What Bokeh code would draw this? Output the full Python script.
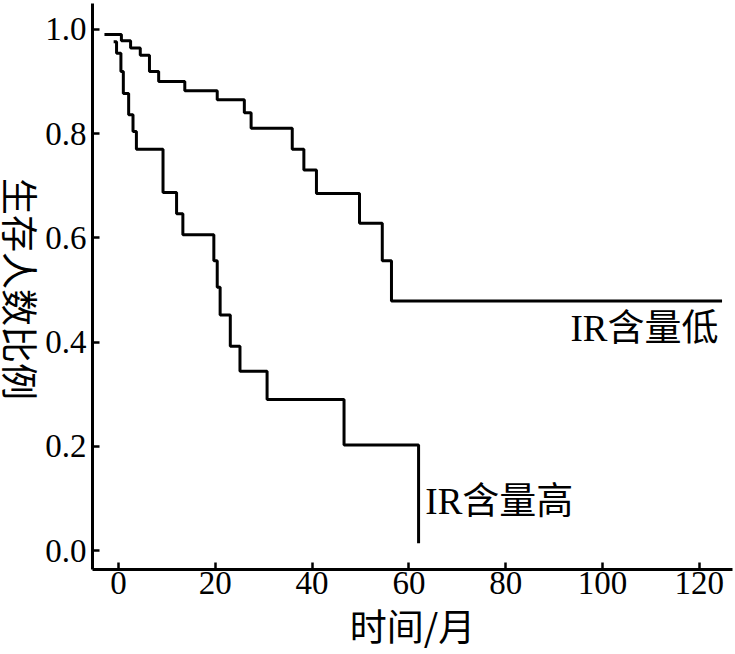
import math
from bokeh.plotting import figure
from bokeh.layouts import row
from bokeh.models import FixedTicker, PrintfTickFormatter, Range1d, Label
from bokeh.core.properties import value
from bokeh.embed import file_html
from bokeh.resources import INLINE

# IR low group (Kaplan-Meier step curve): time of drop, survival after drop
low_time = [-2.9, 0.6, 2.5, 4.5, 6.4, 8.3, 13.7, 20.4, 26.0, 27.4, 35.9, 38.3, 40.9, 49.8, 54.5, 56.4, 124.7]
low_surv = [0.990, 0.978, 0.964, 0.950, 0.919, 0.900, 0.882, 0.865, 0.840, 0.810, 0.770, 0.730, 0.685, 0.628, 0.556, 0.479, 0.479]

# IR high group
high_time = [-1.0, -0.4, 0.5, 1.0, 2.1, 3.0, 3.7, 9.2, 12.0, 13.3, 19.7, 20.4, 21.0, 23.1, 25.1, 30.7, 46.6, 62.0]
high_surv = [0.976, 0.954, 0.919, 0.877, 0.836, 0.804, 0.770, 0.687, 0.646, 0.606, 0.556, 0.505, 0.452, 0.392, 0.344, 0.290, 0.2025, 0.014]

x_ticks = [0, 20, 40, 60, 80, 100, 120]
y_ticks = [0.0, 0.2, 0.4, 0.6, 0.8, 1.0]

label_low = "IR含量低"
label_high = "IR含量高"
x_title = "时间/月"
y_title = "生存人数比例"

H = 654
TW = 40

# narrow panel holding the y-axis title (reads top to bottom)
tp = figure(width=TW, height=H, output_backend="svg", toolbar_location=None,
            x_range=Range1d(0, TW), y_range=Range1d(0, H),
            min_border_left=0, min_border_right=0, min_border_top=0, min_border_bottom=0)
tp.axis.visible = False
tp.grid.visible = False
tp.outline_line_color = None
tp.text(x=[20], y=[H - 330], text=[y_title], angle=-math.pi / 2,
        text_font=value("Noto Sans CJK SC"), text_font_size="37px",
        text_align="center", text_baseline="middle", text_color="black")

p = figure(width=735 - TW, height=H, output_backend="svg", toolbar_location=None,
           x_range=Range1d(-5.37, 126.86), y_range=Range1d(-0.0362, 1.0495),
           min_border_left=92 - TW, min_border_right=3, min_border_top=3, min_border_bottom=81)
p.outline_line_color = None
p.xgrid.grid_line_color = None
p.ygrid.grid_line_color = None
p.background_fill_color = "white"
p.border_fill_color = "white"

p.step(low_time, low_surv, mode="after", line_width=3, line_color="black")
p.step(high_time, high_surv, mode="after", line_width=3, line_color="black")

serif = "Liberation Serif, Noto Sans CJK SC"
p.add_layout(Label(x=93.4, y=0.427, text=label_low, text_font=serif, text_font_size="37px",
                   text_baseline="middle", text_align="left", text_color="black"))
p.add_layout(Label(x=63.4, y=0.095, text=label_high, text_font=serif, text_font_size="37px",
                   text_baseline="middle", text_align="left", text_color="black"))

for ax in (p.xaxis[0], p.yaxis[0]):
    ax.axis_line_width = 3
    ax.axis_line_color = "black"
    ax.major_tick_line_width = 2.5
    ax.major_tick_line_color = "black"
    ax.major_tick_in = 7
    ax.major_tick_out = 0
    ax.minor_tick_line_color = None
    ax.major_label_text_font = "Liberation Serif"
    ax.major_label_text_font_size = "33px"
    ax.major_label_text_color = "black"
    ax.axis_label_text_font = "Noto Sans CJK SC"
    ax.axis_label_text_font_size = "37px"
    ax.axis_label_text_font_style = "normal"
    ax.axis_label_text_color = "black"

p.xaxis[0].ticker = FixedTicker(ticks=x_ticks)
p.yaxis[0].ticker = FixedTicker(ticks=y_ticks)
p.yaxis[0].formatter = PrintfTickFormatter(format="%.1f")
p.xaxis[0].major_label_standoff = 2
p.yaxis[0].major_label_standoff = 6
p.xaxis[0].axis_label = x_title
p.xaxis[0].axis_label_standoff = 1

layout = row(tp, p, spacing=0)
open("out.html", "w").write(file_html(layout, INLINE))
